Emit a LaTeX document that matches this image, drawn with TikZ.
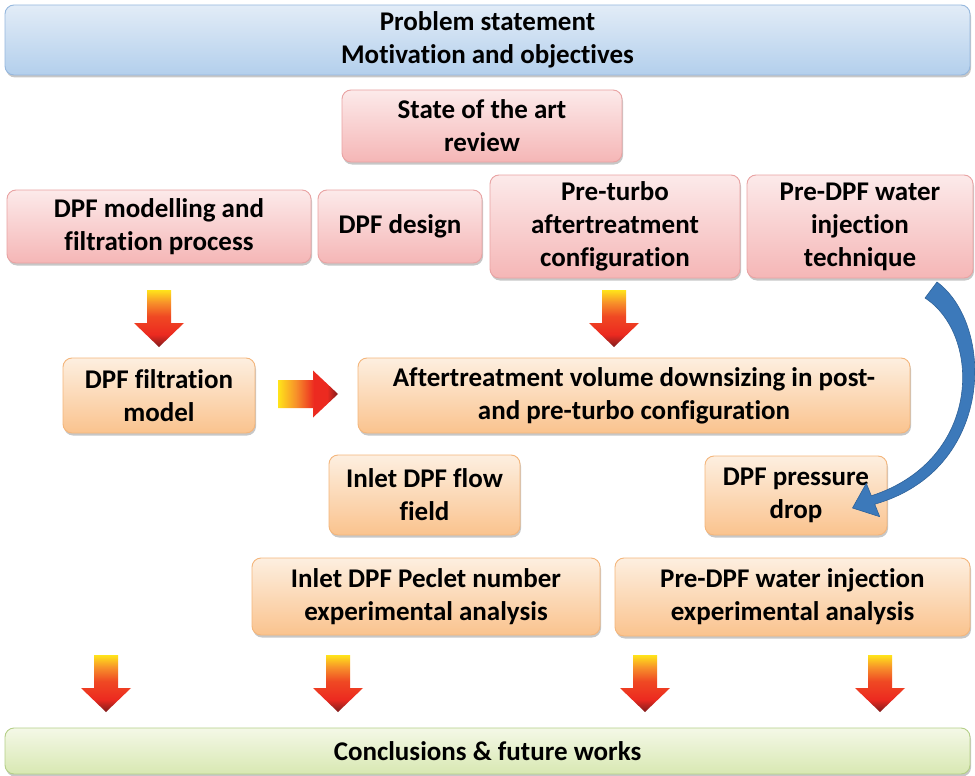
\documentclass[tikz,border=0pt]{standalone}
\usepackage{fontspec}
\setmainfont{Carlito}[Ligatures=NoCommon]
\usetikzlibrary{shadows}

% box colours
\definecolor{blueTop}{HTML}{E2ECF7}
\definecolor{blueBot}{HTML}{B3CFEC}
\definecolor{blueLine}{HTML}{96B8DE}
\definecolor{pinkTop}{HTML}{FCEAEA}
\definecolor{pinkBot}{HTML}{F5B6B6}
\definecolor{pinkLine}{HTML}{E9A3A3}
\definecolor{orTop}{HTML}{FDEFE0}
\definecolor{orBot}{HTML}{FAC38E}
\definecolor{orLine}{HTML}{F4B67C}
\definecolor{grTop}{HTML}{F4F8E7}
\definecolor{grBot}{HTML}{D8E8B2}
\definecolor{grLine}{HTML}{B5CF88}
% block-arrow colours
\definecolor{arrYellow}{HTML}{FFE41A}
\definecolor{arrOrange}{HTML}{F7902A}
\definecolor{arrRed}{HTML}{EC2A20}
\definecolor{arrDark}{HTML}{7E1C1C}
\definecolor{curveBlue}{HTML}{3C79BA}
\definecolor{curveLine}{HTML}{2F6299}

\pgfdeclareverticalshading{blockdn}{100bp}{color(0bp)=(arrDark); color(25bp)=(arrDark); color(36bp)=(arrRed); color(52bp)=(arrRed!70!arrOrange); color(64bp)=(arrOrange); color(75bp)=(arrYellow); color(100bp)=(arrYellow)}
\pgfdeclarehorizontalshading{blockrt}{100bp}{color(0bp)=(arrYellow); color(25bp)=(arrYellow); color(40bp)=(arrOrange); color(55bp)=(arrRed); color(66bp)=(arrRed); color(75bp)=(arrDark); color(100bp)=(arrDark)}

\begin{document}
\begin{tikzpicture}[x=1pt,y=-1pt,
  box/.style={rounded corners=9pt, line width=0.9pt, inner sep=0pt, align=center,
    font=\fontsize{27}{33}\selectfont\bfseries,
    drop shadow={shadow xshift=1pt, shadow yshift=-2.5pt, opacity=0.22, fill=black}},
  bluebox/.style={box, draw=blueLine, top color=blueTop, bottom color=blueBot},
  pinkbox/.style={box, draw=pinkLine, top color=pinkTop, bottom color=pinkBot},
  orbox/.style={box, draw=orLine, top color=orTop, bottom color=orBot},
  grbox/.style={box, draw=grLine, top color=grTop, bottom color=grBot},
  dnarrow/.pic={\shade[shading=blockdn] (-12,0) -- (12,0) -- (12,33) -- (25,33) -- (0,57) -- (-25,33) -- (-12,33) -- cycle;},
  rtarrow/.pic={\shade[shading=blockrt] (0,-14) -- (35,-14) -- (35,-23.5) -- (60,0) -- (35,23.5) -- (35,14) -- (0,14) -- cycle;}
]
\useasboundingbox[fill=white] (0,0) rectangle (975,776);

% boxes
\node[bluebox, minimum width=965pt, minimum height=70pt] (problem) at (487.5,40)
  {Problem statement\\Motivation and objectives};
\node[pinkbox, minimum width=280pt, minimum height=72pt] (state) at (482,126)
  {State of the art\\review};
\node[pinkbox, minimum width=304pt, minimum height=73pt] (model) at (159,226.5)
  {DPF modelling and\\filtration process};
\node[pinkbox, minimum width=164pt, minimum height=73pt] (design) at (400,226.5)
  {DPF design};
\node[pinkbox, minimum width=250pt, minimum height=103pt] (preturbo) at (615,226.5)
  {Pre-turbo\\aftertreatment\\configuration};
\node[pinkbox, minimum width=226pt, minimum height=103pt] (water) at (860,226.5)
  {Pre-DPF water\\injection\\technique};
\node[orbox, minimum width=192pt, minimum height=75pt] (filt) at (159,395.5)
  {DPF filtration\\model};
\node[orbox, minimum width=552pt, minimum height=75pt] (downsize) at (634,395.5)
  {Aftertreatment volume downsizing in post-\\and pre-turbo configuration};
\node[orbox, minimum width=191pt, minimum height=80pt] (inlet) at (424.5,495)
  {Inlet DPF flow\\field};
\node[orbox, minimum width=182pt, minimum height=79pt] (pdrop) at (796,495.5)
  {DPF pressure\\drop};
\node[orbox, minimum width=348pt, minimum height=77pt] (peclet) at (426,596.5)
  {Inlet DPF Peclet number\\experimental analysis};
\node[orbox, minimum width=355pt, minimum height=78pt] (waterexp) at (792.5,597)
  {Pre-DPF water injection\\experimental analysis};
\node[grbox, minimum width=965pt, minimum height=46pt] (concl) at (487.5,751)
  {Conclusions \& future works};

% gradient block arrows
\pic at (159,290) {dnarrow};
\pic at (614,290) {dnarrow};
\pic at (278,394) {rtarrow};
\pic at (106,655) {dnarrow};
\pic at (338,655) {dnarrow};
\pic at (645,655) {dnarrow};
\pic at (880,655) {dnarrow};

% curved blue arrow from the water-injection box to the pressure-drop box
\filldraw[fill=curveBlue, draw=curveLine, line width=0.6pt, line join=round]
  (937,282) .. controls (995,325) and (995,470) .. (874.7,504.2)
  -- (879.7,516.7) -- (852.5,508) -- (866.3,483.3) -- (871.3,495.8)
  .. controls (982,460) and (982,335) .. (925,298) -- cycle;
\end{tikzpicture}
\end{document}
